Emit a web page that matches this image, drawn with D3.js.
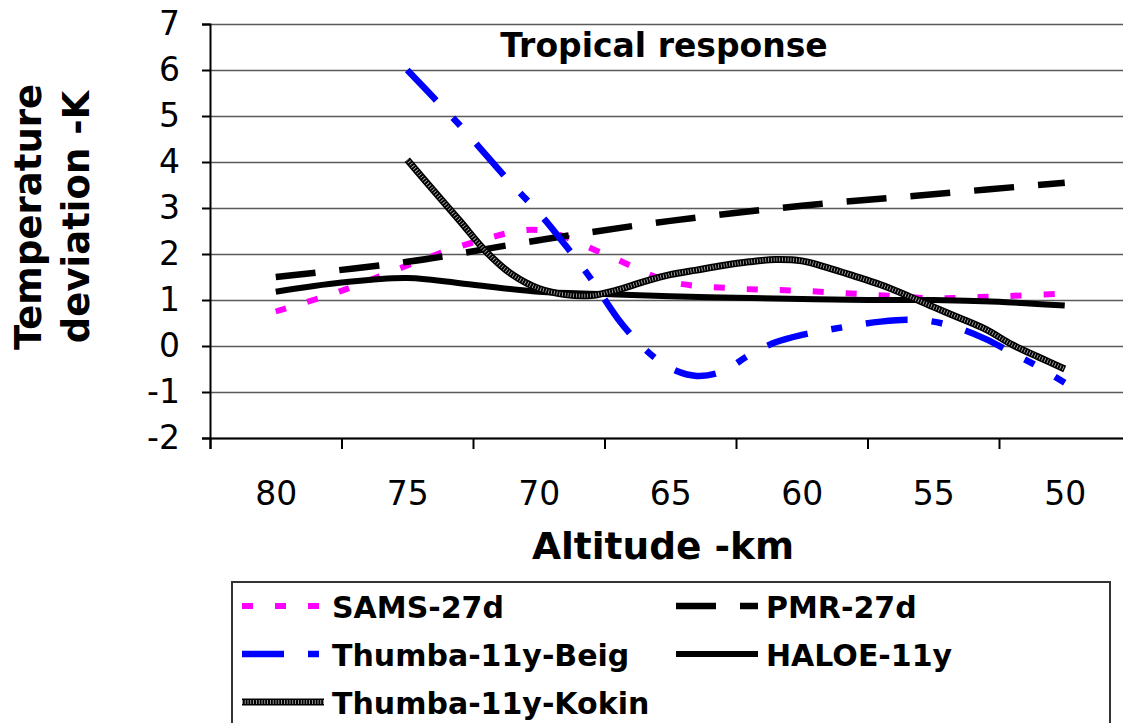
<!DOCTYPE html>
<html>
<head>
<meta charset="utf-8">
<script src="https://cdn.jsdelivr.net/npm/d3@7"></script>
<style>
  body { margin: 0; background: #fff; }
  svg { display: block; font-family: "DejaVu Sans", Verdana, sans-serif; }
</style>
</head>
<body>
<svg id="chart" width="1123" height="723"></svg>
<script>
// DATA

const altTicks = [80, 75, 70, 65, 60, 55, 50];

const samsAlt = [80, 77.5, 75, 72.5, 70, 67.5, 65, 62.5, 60, 57.5, 55, 52.5, 50],
      samsVal = [0.75, 1.2, 1.75, 2.25, 2.52, 2.0, 1.4, 1.25, 1.2, 1.12, 1.04, 1.08, 1.14];

const pmrAlt = [80, 75, 70, 65, 60, 55, 50],
      pmrVal = [1.5, 1.83, 2.3, 2.72, 3.05, 3.3, 3.55];

const beigAlt = [75, 74, 73, 72, 71, 70, 69, 68, 67, 66, 65, 64, 63, 62, 61, 60, 59, 58, 57, 56, 55, 54, 53, 52, 51, 50],
      beigVal = [6.0, 5.4, 4.8, 4.15, 3.5, 2.9, 2.2, 1.45, 0.6, -0.05, -0.48, -0.65, -0.55, -0.2, 0.08, 0.24, 0.35, 0.45, 0.53, 0.57, 0.53, 0.38, 0.15, -0.15, -0.45, -0.8];

const haloeAlt = [80, 77.5, 75, 72.5, 70, 67.5, 65, 62.5, 60, 57.5, 55, 52.5, 50],
      haloeVal = [1.18, 1.38, 1.48, 1.33, 1.18, 1.13, 1.08, 1.05, 1.02, 1.0, 1.0, 0.96, 0.88];

const kokinAlt = [75, 74, 73, 72, 71, 70, 69, 68, 67, 66, 65, 64, 63, 62, 61, 60, 59, 58, 57, 56, 55, 54, 53, 52, 51, 50],
      kokinVal = [4.05, 3.38, 2.72, 2.05, 1.55, 1.25, 1.12, 1.1, 1.22, 1.4, 1.55, 1.65, 1.75, 1.83, 1.88, 1.85, 1.7, 1.52, 1.33, 1.1, 0.85, 0.61, 0.36, 0.03, -0.24, -0.5];

const zip = (a, v) => a.map((d, i) => ({ alt: d, val: v[i] }));

const series = [
  { name: 'SAMS-27d', data: zip(samsAlt, samsVal), color: '#ff00ff', dash: '11,22', width: 6 },
  { name: 'PMR-27d', data: zip(pmrAlt, pmrVal), color: '#000', dash: '40,24', width: 6.5 },
  { name: 'Thumba-11y-Beig', data: zip(beigAlt, beigVal), color: '#0000ff', dash: '42,24,11,24', width: 6.5 },
  { name: 'HALOE-11y', data: zip(haloeAlt, haloeVal), color: '#000', dash: null, width: 6 },
  { name: 'Thumba-11y-Kokin', data: zip(kokinAlt, kokinVal), color: '#000', dash: null, width: 7, striped: true }
];

// CHART

const svg = d3.select('#chart');

const plotL = 210, plotR = 1130.5, plotT = 24, plotB = 438;

const x = d3.scaleLinear().domain([82.5, 47.5]).range([plotL, plotR]),
      y = d3.scaleLinear().domain([-2, 7]).range([plotB, plotT]);

// gridlines
svg.append('g')
  .attr('transform', `translate(${plotL},0)`)
  .call(d3.axisLeft(y).tickValues(d3.range(-2, 8)).tickSize(-(plotR - plotL)).tickFormat(''))
  .call(g => g.select('.domain').remove())
  .call(g => g.selectAll('line').attr('stroke', '#5a5a5a').attr('stroke-width', 1.6));

// y axis
svg.append('g')
  .attr('transform', `translate(${plotL},0)`)
  .call(d3.axisLeft(y).tickValues(d3.range(-2, 8)).tickSize(8).tickPadding(22).tickFormat(d => String(d)))
  .call(g => g.select('.domain').attr('stroke', '#000').attr('stroke-width', 2))
  .call(g => g.selectAll('line').attr('stroke', '#000').attr('stroke-width', 2))
  .call(g => g.selectAll('text').attr('font-size', 33).attr('fill', '#000')
    .attr('font-family', '"DejaVu Sans", Verdana, sans-serif'));

// x axis ticks between categories
svg.append('g')
  .attr('transform', `translate(0,${plotB})`)
  .call(d3.axisBottom(x).tickValues(d3.range(82.5, 47, -5)).tickSize(11).tickFormat(''))
  .call(g => g.select('.domain').attr('stroke', '#000').attr('stroke-width', 2))
  .call(g => g.selectAll('line').attr('stroke', '#000').attr('stroke-width', 2));

// x labels
svg.append('g')
  .attr('transform', `translate(0,${plotB})`)
  .call(d3.axisBottom(x).tickValues(altTicks).tickSize(0).tickPadding(44).tickFormat(d => String(d)))
  .call(g => g.select('.domain').remove())
  .call(g => g.selectAll('text').attr('font-size', 33).attr('fill', '#000')
    .attr('font-family', '"DejaVu Sans", Verdana, sans-serif'));

// lines
const line = d3.line()
  .x(d => x(d.alt))
  .y(d => y(d.val))
  .curve(d3.curveCatmullRom.alpha(0.5));

const drawPath = (g, s, gen) => {
  if (s.striped) {
    g.append('path').attr('d', gen).attr('fill', 'none')
      .attr('stroke', '#000').attr('stroke-width', s.width);
    g.append('path').attr('d', gen).attr('fill', 'none')
      .attr('stroke', '#bbb').attr('stroke-width', s.width - 3)
      .attr('stroke-dasharray', '0.8,2');
  } else {
    g.append('path').attr('d', gen).attr('fill', 'none')
      .attr('stroke', s.color).attr('stroke-width', s.width)
      .attr('stroke-dasharray', s.dash);
  }
};

const plot = svg.append('g');
for (const s of series) {
  drawPath(plot.append('g'), s, line(s.data));
}

// title
svg.append('text')
  .attr('x', 664).attr('y', 57)
  .attr('text-anchor', 'middle')
  .attr('font-size', 33).attr('font-weight', 'bold')
  .text('Tropical response');

// axis titles
svg.append('text')
  .attr('x', 663).attr('y', 559)
  .attr('text-anchor', 'middle')
  .attr('font-size', 37.5).attr('font-weight', 'bold')
  .text('Altitude -km');

const yTitle = svg.append('text')
  .attr('transform', 'translate(41,217) rotate(-90)')
  .attr('text-anchor', 'middle')
  .attr('font-size', 37).attr('font-weight', 'bold');
yTitle.append('tspan').attr('x', 0).attr('dy', 0).text('Temperature');
yTitle.append('tspan').attr('x', 0).attr('dy', 48).text('deviation -K');

// legend
const legend = svg.append('g');
legend.append('rect')
  .attr('x', 232).attr('y', 582)
  .attr('width', 878).attr('height', 160)
  .attr('fill', '#fff').attr('stroke', '#333').attr('stroke-width', 2);

const legendPos = [
  { x: 242, y: 606 }, { x: 676, y: 606 },
  { x: 242, y: 654 }, { x: 676, y: 654 },
  { x: 242, y: 702 }
];

series.forEach((s, i) => {
  const p = legendPos[i],
        g = legend.append('g');
  const seg = d3.line()([[p.x, p.y], [p.x + 82, p.y]]);
  drawPath(g, s, seg);
  g.append('text')
    .attr('x', p.x + 90).attr('y', p.y + 12)
    .attr('font-size', 30).attr('font-weight', 'bold')
    .text(s.name);
});
</script>
</body>
</html>
